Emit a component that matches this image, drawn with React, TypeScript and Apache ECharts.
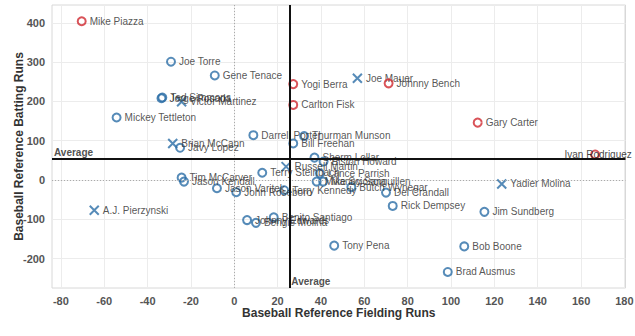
import React, { useEffect, useRef } from "react";
import * as echarts from "echarts";

const players = [
  "Mike Piazza", "Joe Torre", "Gene Tenace", "Ted Simmons", "Jorge Posada", "Victor Martinez",
  "Mickey Tettleton", "Brian McCann", "Javy Lopez", "Darrell Porter", "Yogi Berra", "Joe Mauer",
  "Johnny Bench", "Carlton Fisk", "Thurman Munson", "Bill Freehan", "Gary Carter", "Ivan Rodriguez",
  "Sherm Lollar", "Elston Howard", "Russell Martin", "Terry Steinbach", "Lance Parrish", "Mike Scioscia",
  "Manny Sanguillen", "Butch Wynegar", "Del Crandall", "Rick Dempsey", "Tim McCarver", "Jason Kendall",
  "Jason Varitek", "John Roseboro", "Terry Kennedy", "A.J. Pierzynski", "Yadier Molina", "Jim Sundberg",
  "Benito Santiago", "Johnny Edwards", "Bengie Molina", "Tony Pena", "Bob Boone", "Brad Ausmus",
];
const fieldingRuns = [
  -70.4, -29.2, -9, -33.2, -33.6, -24.3,
  -54.3, -28.4, -25, 8.8, 27.2, 56.8,
  71.2, 27.2, 32.2, 27.2, 112.3, 166.5,
  37, 41.2, 23.9, 12.9, 39.5, 38,
  41, 54, 70, 73.1, -24.3, -23.2,
  -8, 0.9, 23, -64.6, 123.4, 115.4,
  18.2, 5.9, 10, 46.1, 106.1, 98.5,
];
const battingRuns = [
  404, 301, 266, 210, 208, 199,
  159, 93, 82, 114, 244, 259,
  246, 191, 112, 93, 146, 65,
  57, 47, 34, 18.5, 17, -4,
  -4, -18, -32, -66, 6, -4,
  -21, -31, -26, -77, -10, -81,
  -95, -102, -109, -167, -169, -234,
];
// h = Hall of Fame (red circle), c = circle, x = cross
const kinds = [
  "h", "c", "c", "c", "c", "x",
  "c", "x", "c", "c", "h", "x",
  "h", "h", "c", "c", "h", "h",
  "c", "c", "x", "c", "c", "c",
  "c", "c", "c", "c", "c", "c",
  "c", "c", "c", "x", "x", "c",
  "c", "c", "c", "c", "c", "c",
];

const averageFielding = 25.4;
const averageBatting = 53.4;
const xRange = [-84.1, 180.5];
const yRange = [-274.8, 445.3];
const xTicks = [-80, -60, -40, -20, 0, 20, 40, 60, 80, 100, 120, 140, 160, 180];
const yTicks = [-200, -100, 0, 100, 200, 300, 400];

const BLUE = "#2c6ea6";
const RED = "#d0282f";
const FONT = "'Liberation Sans Narrow', 'Arial Narrow', 'Liberation Sans', Arial, sans-serif";

function pointsOf(kind: string) {
  const out: any[] = [];
  players.forEach((name, i) => {
    if (kinds[i] !== kind) return;
    const item: any = { name, value: [fieldingRuns[i], battingRuns[i]] };
    if (name === "Ivan Rodriguez") {
      item.label = { position: "inside", offset: [3, 0], color: "#111" };
    }
    out.push(item);
  });
  return out;
}

export default function App() {
  const ref = useRef<HTMLDivElement>(null);
  useEffect(() => {
    if (!ref.current) return;
    const chart = echarts.init(ref.current, null, { renderer: "svg" });
    const pointLabel = {
      show: true,
      position: "right",
      distance: 3,
      formatter: "{b}",
      color: "#2a2a2a",
      fontSize: 10,
      fontFamily: FONT,
    };
    const axisLabelStyle = {
      color: "#555",
      fontSize: 11,
      fontWeight: "bold",
      fontFamily: FONT,
    };
    chart.setOption({
      animation: false,
      backgroundColor: "#fff",
      grid: {
        left: 52,
        top: 5,
        right: 9.5,
        bottom: 48,
        outerBoundsMode: "none",
        containLabel: false,
        show: true,
        borderColor: "#d8d8d8",
        borderWidth: 1,
      },
      xAxis: {
        type: "value",
        min: xRange[0],
        max: xRange[1],
        name: "Baseball Reference Fielding Runs",
        nameLocation: "middle",
        nameGap: 19,
        nameMoveOverlap: false,
        nameTextStyle: { color: "#333", fontSize: 12, fontWeight: "bold", fontFamily: FONT },
        axisLine: { show: false },
        axisTick: { show: false, customValues: xTicks },
        axisLabel: { ...axisLabelStyle, margin: 7, customValues: xTicks },
        splitLine: { show: true, lineStyle: { color: "#ececec", width: 1 } },
      },
      yAxis: {
        type: "value",
        min: yRange[0],
        max: yRange[1],
        name: "Baseball Reference Batting Runs",
        nameLocation: "middle",
        nameGap: 27,
        nameMoveOverlap: false,
        nameTextStyle: { color: "#333", fontSize: 12, fontWeight: "bold", fontFamily: FONT },
        axisLine: { show: false },
        axisTick: { show: false, customValues: yTicks },
        axisLabel: { ...axisLabelStyle, margin: 7, customValues: yTicks },
        splitLine: { show: true, lineStyle: { color: "#ececec", width: 1 } },
      },
      series: [
        {
          type: "scatter",
          name: "reference",
          silent: true,
          symbolSize: 0,
          z: 1,
          data: [
            { value: [xRange[0], averageBatting], label: { offset: [0, -7] } },
            { value: [averageFielding, yRange[0]], label: { offset: [0, -7] } },
          ],
          label: {
            show: true,
            position: "right",
            distance: 2,
            formatter: () => "Average",
            color: "#222",
            fontSize: 10,
            fontWeight: "bold",
            fontFamily: FONT,
          },
          markLine: {
            silent: true,
            symbol: "none",
            label: { show: false },
            data: [
              { xAxis: 0, lineStyle: { color: "#aaa", width: 1, type: [1, 2] } },
              { yAxis: 0, lineStyle: { color: "#aaa", width: 1, type: [1, 2] } },
              { xAxis: averageFielding, lineStyle: { color: "#111", width: 2, type: "solid" } },
              { yAxis: averageBatting, lineStyle: { color: "#111", width: 2, type: "solid" } },
            ],
          },
        },
        {
          type: "scatter",
          name: "circle",
          symbol: "circle",
          symbolSize: 8,
          z: 3,
          itemStyle: { color: "rgba(255,255,255,0)", borderColor: BLUE, borderWidth: 2 },
          label: pointLabel,
          data: pointsOf("c"),
        },
        {
          type: "scatter",
          name: "cross",
          symbol: "path://M0,0L10,10M10,0L0,10",
          symbolSize: 9,
          z: 3,
          itemStyle: { color: "rgba(255,255,255,0)", borderColor: BLUE, borderWidth: 2 },
          label: pointLabel,
          data: pointsOf("x"),
        },
        {
          type: "scatter",
          name: "hof",
          symbol: "circle",
          symbolSize: 8,
          z: 4,
          itemStyle: { color: "rgba(255,255,255,0)", borderColor: RED, borderWidth: 2 },
          label: pointLabel,
          data: pointsOf("h"),
        },
      ],
    });
    return () => chart.dispose();
  }, []);
  return (
    <div
      ref={ref}
      style={{ position: "fixed", left: 0, top: 0, width: 635, height: 336 }}
    />
  );
}
